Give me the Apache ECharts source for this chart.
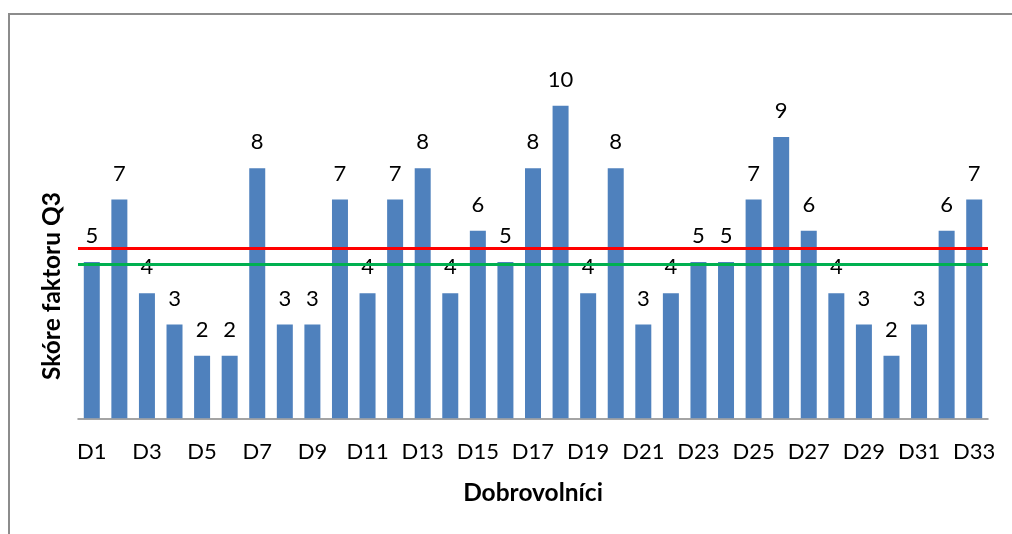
<!DOCTYPE html>
<html>
<head>
<meta charset="utf-8">
<script src="https://cdn.jsdelivr.net/npm/echarts@6/dist/echarts.min.js"></script>
<style>
  html, body { margin: 0; padding: 0; background: #fff; }
  #chart { width: 1012px; height: 534px; }
</style>
</head>
<body>
<div id="chart"></div>
<script>
// Volunteers D1..D33 and their Q3 factor scores
const categories = Array.from({ length: 33 }, (_, i) => 'D' + (i + 1));
const scores = [5, 7, 4, 3, 2, 2, 8, 3, 3, 7, 4, 7, 8, 4, 6, 5, 8, 10, 4, 8, 3, 4, 5, 5, 7, 9, 6, 4, 3, 2, 3, 6, 7];
// Reference levels drawn across the plot
const redLevel = 5.45;
const greenLevel = 4.93;

const FONT = 'Lato';

const chart = echarts.init(document.getElementById('chart'), null, { renderer: 'canvas' });

chart.setOption({
  animation: false,
  backgroundColor: '#ffffff',
  textStyle: { fontFamily: FONT },
  grid: { left: 78, right: 24, top: 43.2, bottom: 115.7, containLabel: false },
  graphic: [
    {
      type: 'rect',
      shape: { x: 9, y: 14, width: 1020, height: 540 },
      style: { fill: 'none', stroke: '#8c8c8c', lineWidth: 2 },
      silent: true
    },
    {
      type: 'text',
      x: 52, y: 286,
      rotation: Math.PI / 2,
      style: {
        text: 'Skóre faktoru Q3',
        fontFamily: FONT, fontSize: 24.5, fontWeight: 'bold',
        fill: '#000', align: 'center', verticalAlign: 'middle'
      }
    },
    {
      type: 'text',
      x: 533, y: 493,
      style: {
        text: 'Dobrovolníci',
        fontFamily: FONT, fontSize: 24.5, fontWeight: 'bold',
        fill: '#000', align: 'center', verticalAlign: 'middle'
      }
    }
  ],
  xAxis: {
    type: 'category',
    data: categories,
    axisLine: { lineStyle: { color: '#868686', width: 1.5 } },
    axisTick: { show: false },
    axisLabel: { interval: 1, margin: 23, fontSize: 22, color: '#000', fontFamily: FONT }
  },
  yAxis: {
    type: 'value',
    min: 0, max: 12,
    show: false,
    splitLine: { show: false }
  },
  series: [
    {
      type: 'bar',
      data: scores,
      barCategoryGap: '42%',
      itemStyle: { color: '#4F81BD' },
      label: {
        show: true, position: 'top', distance: 15,
        fontSize: 22, color: '#000', fontFamily: FONT
      },
      markLine: {
        silent: true,
        symbol: 'none',
        label: { show: false },
        data: [
          { yAxis: redLevel, lineStyle: { color: '#FF0000', width: 3, type: 'solid' } },
          { yAxis: greenLevel, lineStyle: { color: '#00B050', width: 3, type: 'solid' } }
        ]
      }
    }
  ]
});
</script>
</body>
</html>
